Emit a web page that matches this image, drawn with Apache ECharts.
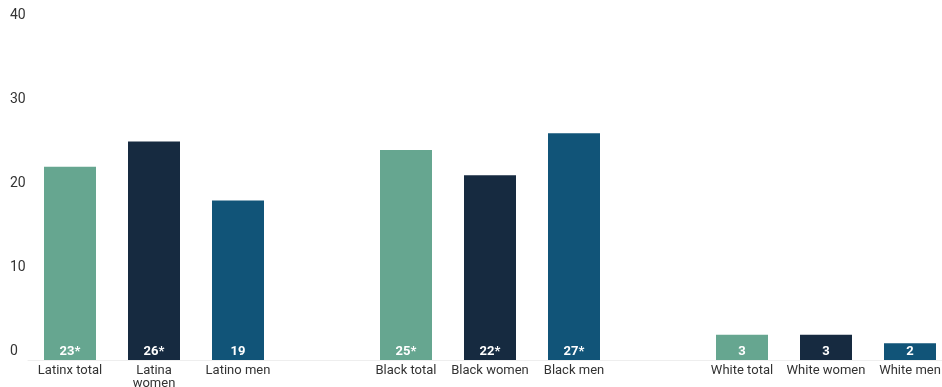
<!DOCTYPE html>
<html>
<head>
<meta charset="utf-8">
<script src="https://cdn.jsdelivr.net/npm/echarts@6/dist/echarts.min.js"></script>
<style>html,body{margin:0;padding:0;background:#fff}#c{width:942px;height:387px}</style>
</head>
<body>
<div id="c"></div>
<script>
var categories = ['Latinx total','Latina\nwomen','Latino men','','Black total','Black women','Black men','','White total','White women','White men'];
var values = [23, 26, 19, null, 25, 22, 27, null, 3, 3, 2];
var valueLabels = ['23*','26*','19','','25*','22*','27*','','3','3','2'];
var groupKinds = ['total','women','men','','total','women','men','','total','women','men'];
var kindColors = { total: '#66a690', women: '#162a40', men: '#115478' };
var yTicks = [0, 10, 20, 30, 40];

var chart = echarts.init(document.getElementById('c'));
var seriesData = values.map(function (v, i) {
  return { value: v, itemStyle: { color: kindColors[groupKinds[i]] || '#ccc' } };
});
chart.setOption({
  animation: false,
  textStyle: { fontFamily: 'Roboto' },
  grid: { left: 28, width: 924, top: 24, bottom: 27, containLabel: false, outerBoundsMode: 'none' },
  xAxis: {
    type: 'category',
    data: categories,
    axisLine: { show: true, lineStyle: { color: '#eeeeee', width: 1 } },
    axisTick: { show: false },
    axisLabel: {
      interval: 0, color: '#333', fontSize: 13, margin: 4, lineHeight: 13
    }
  },
  yAxis: {
    type: 'value',
    min: yTicks[0], max: yTicks[yTicks.length - 1], interval: 10,
    axisLine: { show: false },
    axisTick: { show: false },
    splitLine: { show: false },
    axisLabel: { color: '#333', fontSize: 14, align: 'left', verticalAlign: 'bottom', margin: 18, padding: [0, 0, 2, 0] }
  },
  series: [{
    type: 'bar',
    data: seriesData,
    barWidth: 52,
    label: {
      show: true, position: 'insideBottom', distance: 2,
      color: '#fff', fontWeight: 'bold', fontSize: 13,
      formatter: function (p) { return valueLabels[p.dataIndex]; }
    }
  }]
});
</script>
</body>
</html>
